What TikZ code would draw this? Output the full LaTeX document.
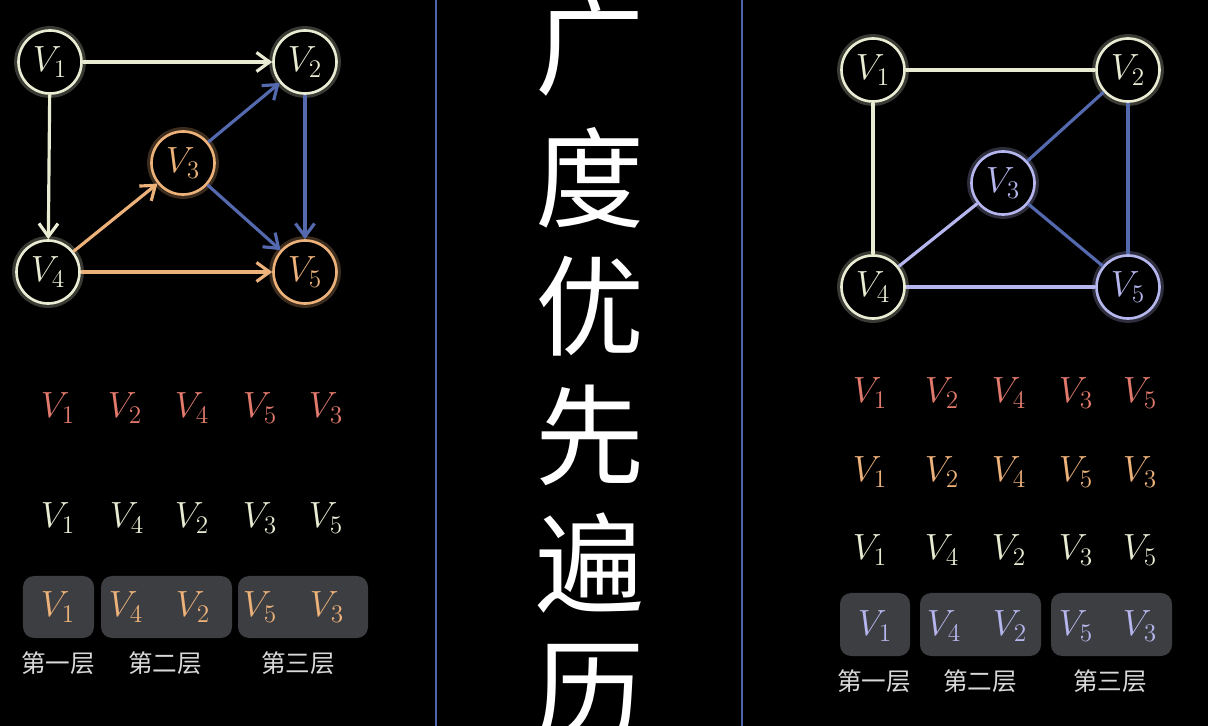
\documentclass[tikz,border=0pt]{standalone}
\usepackage{fontspec}
\newfontfamily\cjk{Noto Sans CJK SC}
\usetikzlibrary{
    arrows.meta
}
\definecolor{cream}{HTML}{E9EBD2}
\definecolor{peach}{HTML}{EDB27A}
\definecolor{steel}{HTML}{5569AE}
\definecolor{lilac}{HTML}{B6B6EE}
\definecolor{salmon}{HTML}{E27A6E}
\definecolor{slate}{HTML}{3D3E42}
\definecolor{divider}{HTML}{4F66A8}
\tikzset{
  every path/.style={
    line width=1.8pt
  },
  vert/.style={
    draw=#1, circle, fill=black, text=#1,
    line width=1.5pt, minimum size=12.6mm, inner sep=0pt,
    font=\fontsize{21}{24}\selectfont,
    preaction={draw=#1, line width=5pt, draw opacity=0.25}
  },
  seq/.style={
    text=#1, inner sep=0pt,
    font=\fontsize{21}{24}\selectfont
  },
  layer/.style={
    fill=slate, rounded corners=2.2mm, minimum height=12.4mm
  },
  layername/.style={
    text=white!85!black, font=\cjk\fontsize{14}{16}\selectfont
  },
  >={Straight Barb[length=2.6mm,width=3.8mm]}
}

\begin{document}
\begin{tikzpicture}[x=0.2mm,y=-0.2mm]
    \fill[black] (0,0) rectangle (1208,726);
    \useasboundingbox (0,0) rectangle (1208,726);

    % 分隔线
    \coordinate (d1t) at (436,0);
    \coordinate (d1b) at (436,726);
    \coordinate (d2t) at (742,0);
    \coordinate (d2b) at (742,726);
    \draw[divider, line width=1.3pt] (d1t) -- (d1b);
    \draw[divider, line width=1.3pt] (d2t) -- (d2b);

    % 标题
    \begin{scope}[every node/.style={text=white, font=\cjk\fontsize{62}{62}\selectfont}]
    \node (t1) at (590,46) {广};
    \node (t2) at (590,178) {度};
    \node (t3) at (590,306) {优};
    \node (t4) at (590,435) {先};
    \node (t5) at (590,563) {遍};
    \node (t6) at (590,692) {历};
    \end{scope}

    % 有向图
    \node[vert=cream] (a1) at (50,62) {$V_1$};
    \node[vert=cream] (a2) at (305,62) {$V_2$};
    \node[vert=peach] (a3) at (183,163) {$V_3$};
    \node[vert=cream] (a4) at (48,272) {$V_4$};
    \node[vert=peach] (a5) at (305,272) {$V_5$};

    \draw[->, cream] (a1) -- (a2);
    \draw[->, cream] (a1) -- (a4);
    \draw[->, peach] (a4) -- (a3);
    \draw[->, peach] (a4) -- (a5);
    \draw[->, steel] (a3) -- (a2);
    \draw[->, steel] (a3) -- (a5);
    \draw[->, steel] (a2) -- (a5);

    % 左侧序列
    \node[seq=salmon] (p1) at (58,408) {$V_1$};
    \node[seq=salmon] (p2) at (125,408) {$V_2$};
    \node[seq=salmon] (p3) at (192,408) {$V_4$};
    \node[seq=salmon] (p4) at (260,408) {$V_5$};
    \node[seq=salmon] (p5) at (326,408) {$V_3$};

    \node[seq=cream] (q1) at (58,518) {$V_1$};
    \node[seq=cream] (q2) at (127,518) {$V_4$};
    \node[seq=cream] (q3) at (192,518) {$V_2$};
    \node[seq=cream] (q4) at (260,518) {$V_3$};
    \node[seq=cream] (q5) at (326,518) {$V_5$};

    \node[layer, minimum width=14.2mm] (lb1) at (58.5,607) {};
    \node[layer, minimum width=26.2mm] (lb2) at (166.5,607) {};
    \node[layer, minimum width=26mm] (lb3) at (303,607) {};
    \node[seq=peach] (r1) at (58,607) {$V_1$};
    \node[seq=peach] (r2) at (126,607) {$V_4$};
    \node[seq=peach] (r3) at (193,607) {$V_2$};
    \node[seq=peach] (r4) at (260,607) {$V_5$};
    \node[seq=peach] (r5) at (327,607) {$V_3$};

    \node[layername] (ln1) at (58,663) {第一层};
    \node[layername] (ln2) at (165,663) {第二层};
    \node[layername] (ln3) at (298,663) {第三层};

    % 无向图
    \node[vert=cream] (b1) at (873,70) {$V_1$};
    \node[vert=cream] (b2) at (1128,70) {$V_2$};
    \node[vert=lilac] (b3) at (1003,183) {$V_3$};
    \node[vert=cream] (b4) at (873,287) {$V_4$};
    \node[vert=lilac] (b5) at (1128,287) {$V_5$};

    \draw[cream] (b1) -- (b2);
    \draw[cream] (b1) -- (b4);
    \draw[steel] (b2) -- (b3);
    \draw[steel] (b2) -- (b5);
    \draw[steel] (b3) -- (b5);
    \draw[lilac] (b3) -- (b4);
    \draw[lilac] (b4) -- (b5);

    % 右侧序列
    \node[seq=salmon] (u1) at (870,393) {$V_1$};
    \node[seq=salmon] (u2) at (942,393) {$V_2$};
    \node[seq=salmon] (u3) at (1009,393) {$V_4$};
    \node[seq=salmon] (u4) at (1076,393) {$V_3$};
    \node[seq=salmon] (u5) at (1140,393) {$V_5$};

    \node[seq=peach] (v1) at (870,472) {$V_1$};
    \node[seq=peach] (v2) at (942,472) {$V_2$};
    \node[seq=peach] (v3) at (1009,472) {$V_4$};
    \node[seq=peach] (v4) at (1076,472) {$V_5$};
    \node[seq=peach] (v5) at (1140,472) {$V_3$};

    \node[seq=cream] (w1) at (870,550) {$V_1$};
    \node[seq=cream] (w2) at (942,550) {$V_4$};
    \node[seq=cream] (w3) at (1009,550) {$V_2$};
    \node[seq=cream] (w4) at (1076,550) {$V_3$};
    \node[seq=cream] (w5) at (1140,550) {$V_5$};

    \node[layer, minimum width=14mm, minimum height=12.6mm] (rb1) at (875,624.5) {};
    \node[layer, minimum width=24.2mm, minimum height=12.6mm] (rb2) at (980.5,624.5) {};
    \node[layer, minimum width=24.2mm, minimum height=12.6mm] (rb3) at (1111.5,624.5) {};
    \node[seq=lilac] (z1) at (875,626) {$V_1$};
    \node[seq=lilac] (z2) at (944,626) {$V_4$};
    \node[seq=lilac] (z3) at (1010,626) {$V_2$};
    \node[seq=lilac] (z4) at (1076,626) {$V_5$};
    \node[seq=lilac] (z5) at (1140,626) {$V_3$};

    \node[layername] (mn1) at (874,681) {第一层};
    \node[layername] (mn2) at (980,681) {第二层};
    \node[layername] (mn3) at (1110,681) {第三层};
\end{tikzpicture}
\end{document}
